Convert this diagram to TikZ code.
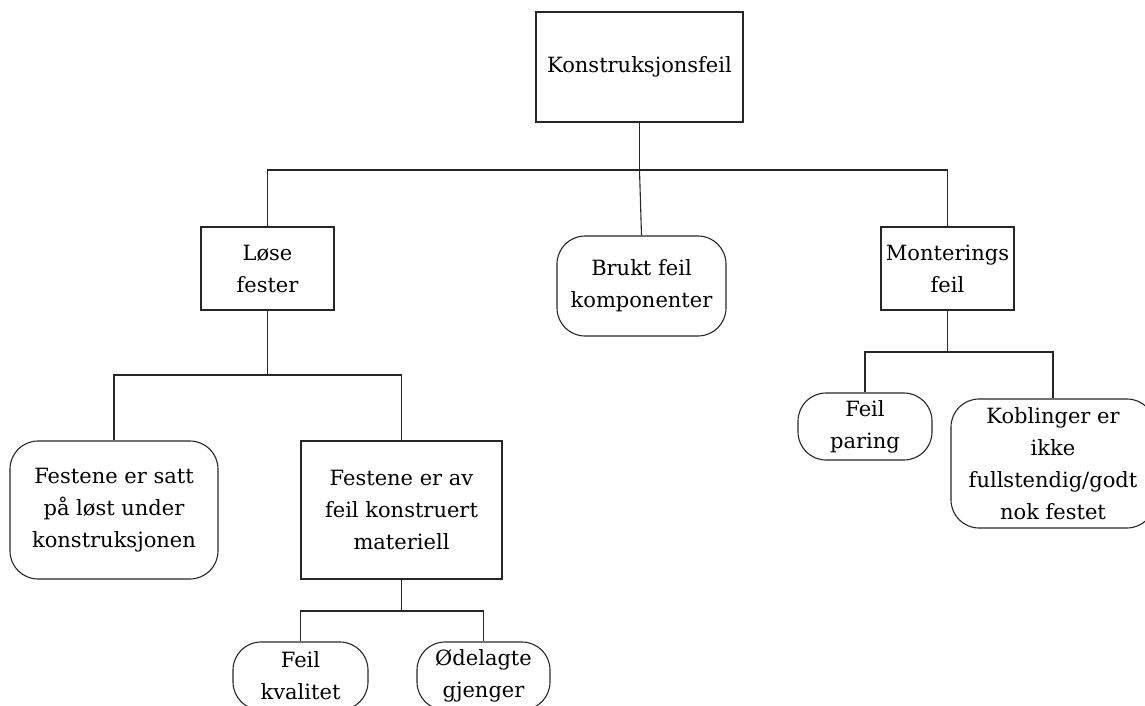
\documentclass[tikz,border=0pt]{standalone}
\usepackage{fontspec}
\setmainfont{DejaVu Serif}
\begin{document}
\begin{tikzpicture}[x=1pt,y=-1pt,
  box/.style={draw=black!85,line width=1.1pt,inner sep=0pt,align=center,font=\fontsize{21}{32}\selectfont},
  sq/.style={box},
  rb/.style={box,rounded corners=28pt},
  conn/.style={draw=black!85,line width=1.1pt}]
\useasboundingbox (0,0) rectangle (1145,706);
\node[sq,minimum width=207pt,minimum height=110pt] (top) at (639.5,67) {Konstruksjonsfeil};
\node[sq,minimum width=133pt,minimum height=83pt] (lose) at (267.5,268.5) {Løse\\fester};
\node[rb,minimum width=169pt,minimum height=100pt] (brukt) at (641.5,286) {Brukt feil\\komponenter};
\node[sq,minimum width=133pt,minimum height=83pt] (mont) at (947.5,268.5) {Monterings\\feil};
\node[rb,minimum width=208pt,minimum height=138pt] (satt) at (114,510) {Festene er satt\\på løst under\\konstruksjonen};
\node[sq,minimum width=201pt,minimum height=138pt] (av) at (401.5,510) {Festene er av\\feil konstruert\\materiell};
\node[rb,minimum width=135pt,minimum height=68pt] (kval) at (300.5,676) {Feil\\kvalitet};
\node[rb,minimum width=133pt,minimum height=68pt] (odel) at (483.5,676) {Ødelagte\\gjenger};
\node[rb,minimum width=134pt,minimum height=67pt] (paring) at (865,426.5) {Feil\\paring};
\node[rb,minimum width=204pt,minimum height=129pt] (kobl) at (1053,463.5) {Koblinger er\\ikke\\fullstendig/godt\\nok festet};
\coordinate (b1) at (0,170);
\coordinate (b2) at (0,375);
\coordinate (b3) at (0,611);
\coordinate (b4) at (0,352);
\draw[conn] (top.south) -- (top.south |- b1);
\draw[conn] (lose.north) |- (top.south |- b1) -| (mont.north);
\draw[conn] (top.south |- b1) -- (brukt.north);
\draw[conn] (lose.south) -- (lose.south |- b2);
\draw[conn] (satt.north) |- (lose.south |- b2) -| (av.north);
\draw[conn] (av.south) -- (av.south |- b3);
\draw[conn] (kval.north) |- (av.south |- b3) -| (odel.north);
\draw[conn] (mont.south) -- (mont.south |- b4);
\draw[conn] (paring.north) |- (mont.south |- b4) -| (kobl.north);
\end{tikzpicture}
\end{document}
